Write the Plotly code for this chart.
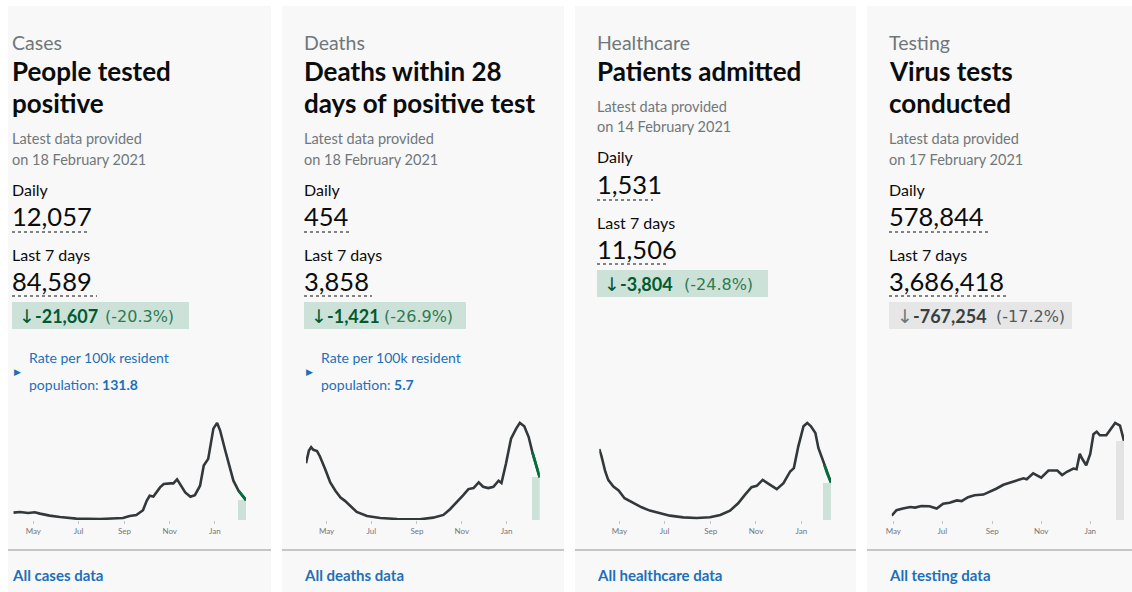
import plotly.graph_objects as go
import pandas as pd

W, H = 1132, 592
FONT = "Lato"

# ---------------- data ----------------
cases_dates = ["2020-04-04", "2020-04-13", "2020-04-24", "2020-05-03", "2020-05-10", "2020-05-23",
               "2020-06-06", "2020-06-28", "2020-07-30", "2020-08-30", "2020-09-08", "2020-09-17",
               "2020-09-26", "2020-10-01", "2020-10-05", "2020-10-10", "2020-10-19", "2020-10-24",
               "2020-11-02", "2020-11-06", "2020-11-11", "2020-11-15", "2020-11-22", "2020-11-29",
               "2020-12-05", "2020-12-12", "2020-12-17", "2020-12-23", "2020-12-30", "2021-01-04",
               "2021-01-08", "2021-01-15", "2021-01-22", "2021-01-26", "2021-02-02", "2021-02-09",
               "2021-02-12"]
cases_values = [4400, 4800, 4200, 4600, 3800, 2600, 1800, 800, 600, 1200, 2400, 3000,
                5800, 11400, 14400, 14000, 19400, 21400, 21800, 21800, 24200, 21400, 16400, 13800,
                14800, 20400, 32400, 36400, 54400, 57800, 53400, 41400, 29400, 23400, 17400, 13000,
                11800]

deaths_dates = ["2020-04-03", "2020-04-07", "2020-04-10", "2020-04-13", "2020-04-18", "2020-04-22",
                "2020-04-29", "2020-05-06", "2020-05-13", "2020-05-20", "2020-05-26", "2020-06-02",
                "2020-06-11", "2020-06-25", "2020-07-13", "2020-08-05", "2020-09-05", "2020-09-23",
                "2020-10-07", "2020-10-16", "2020-10-25", "2020-11-03", "2020-11-10", "2020-11-17",
                "2020-11-24", "2020-11-30", "2020-12-07", "2020-12-14", "2020-12-21", "2020-12-25",
                "2020-12-31", "2021-01-07", "2021-01-14", "2021-01-19", "2021-01-25", "2021-01-31",
                "2021-02-05", "2021-02-10", "2021-02-15"]
deaths_values = [727, 890, 933, 899, 882, 813, 654, 482, 374, 288, 245, 181,
                 103, 52, 26, 13, 9, 30, 65, 138, 224, 318, 396, 409,
                 482, 426, 409, 426, 503, 473, 718, 1041, 1170, 1243, 1200, 1062,
                 869, 697, 546]

health_dates = ["2020-04-04", "2020-04-07", "2020-04-12", "2020-04-16", "2020-04-23", "2020-04-30",
                "2020-05-08", "2020-05-20", "2020-05-31", "2020-06-11", "2020-06-25", "2020-07-08",
                "2020-07-26", "2020-08-13", "2020-08-31", "2020-09-14", "2020-09-27", "2020-10-08",
                "2020-10-17", "2020-10-26", "2020-11-02", "2020-11-10", "2020-11-18", "2020-11-29",
                "2020-12-08", "2020-12-17", "2020-12-22", "2020-12-28", "2021-01-04", "2021-01-09",
                "2021-01-14", "2021-01-20", "2021-01-24", "2021-01-29", "2021-02-01", "2021-02-05",
                "2021-02-10"]
health_values = [2841, 2546, 1943, 1608, 1340, 1179, 871, 670, 509, 375, 268, 174,
                 107, 80, 107, 201, 375, 670, 1005, 1313, 1367, 1608, 1447, 1233,
                 1474, 1943, 2077, 2948, 3752, 3886, 3752, 3484, 2881, 2479, 2211, 1849,
                 1501]

tests_dates = ["2020-04-29", "2020-05-05", "2020-05-13", "2020-05-22", "2020-05-28", "2020-06-05",
               "2020-06-15", "2020-06-24", "2020-07-02", "2020-07-10", "2020-07-19", "2020-07-25",
               "2020-08-02", "2020-08-10", "2020-08-21", "2020-08-31", "2020-09-06", "2020-09-15",
               "2020-09-25", "2020-10-04", "2020-10-10", "2020-10-14", "2020-10-22", "2020-11-01",
               "2020-11-10", "2020-11-21", "2020-11-27", "2020-12-03", "2020-12-11", "2020-12-15",
               "2020-12-19", "2020-12-22", "2020-12-27", "2021-01-01", "2021-01-05", "2021-01-09",
               "2021-01-13", "2021-01-21", "2021-01-26", "2021-02-01", "2021-02-07", "2021-02-12"]
tests_values = [35100, 81000, 94500, 108000, 102600, 116100, 113400, 94500, 135000, 143100,
                162000, 156600, 189000, 205200, 210600, 237600, 259200, 291600, 313200, 326700,
                345600, 337500, 386100, 351000, 410400, 410400, 372600, 399600, 426600, 421200,
                548100, 507600, 453600, 548100, 710100, 731700, 702000, 702000, 750600, 804600,
                783000, 656100]

tick_vals = ["2020-05-01", "2020-07-01", "2020-09-01", "2020-11-01", "2021-01-01"]
tick_text = ["May", "Jul", "Sep", "Nov", "Jan"]

categories = ["Cases", "Deaths", "Healthcare", "Testing"]
titles = [["People tested", "positive"], ["Deaths within 28", "days of positive test"],
          ["Patients admitted"], ["Virus tests", "conducted"]]
dates_provided = ["on 18 February 2021", "on 18 February 2021", "on 14 February 2021",
                  "on 17 February 2021"]
daily_text = ["12,057", "454", "1,531", "578,844"]
week_text = ["84,589", "3,858", "11,506", "3,686,418"]
change_text = ["-21,607", "-1,421", "-3,804", "-767,254"]
change_pct = ["(-20.3%)", "(-26.9%)", "(-24.8%)", "(-17.2%)"]
rate_text = ["131.8", "5.7", None, None]
link_text = ["All cases data", "All deaths data", "All healthcare data", "All testing data"]

series = [(cases_dates, cases_values), (deaths_dates, deaths_values),
          (health_dates, health_values), (tests_dates, tests_values)]

# ---------------- layout / style config ----------------
RECENT_DAYS = 10
card_x = [(8, 271), (282, 564), (575, 856), (867, 1132)]
text_x = [12, 304, 597, 889]
chart_x = [(13.3, 246), (306, 539.7), (599.3, 831), (891.7, 1124)]
title_shift = [0, 0, -32, 0]
under1_end = [88, 351, 653, 988]
under2_end = [97, 372, 669, 1006]
box_end = [189, 466, 768, 1072]
arrow_x = [18, 310, 603, 896]
num_x = [34, 326, 619, 912]
pct_x = [104, 383, 683, 995]
positive = [True, True, True, False]

DARK = "#0b0c0c"
GREY = "#6f777b"
BLUE = "#1d70b8"
LINE = "#33383b"
GREEN_LINE = "#00703c"
GREEN_FILL = "#cce2d8"
GREY_FILL = "#e3e3e3"


def X(px):
    return px / W


def Y(py):
    return 1 - py / H


fig = go.Figure()
shapes = []
annotations = []


def text(x, y, s, size, color, family=FONT):
    annotations.append(dict(x=X(x), y=Y(y), xref="paper", yref="paper", text=s, showarrow=False,
                            xanchor="left", yanchor="middle", borderpad=0,
                            font=dict(family=family, size=size, color=color)))


for i in range(4):
    cx0, cx1 = card_x[i]
    shapes.append(dict(type="rect", xref="paper", yref="paper", x0=X(cx0), x1=X(cx1), y0=Y(592), y1=Y(6),
                       fillcolor="#f8f8f8", line=dict(width=0), layer="below"))
    shapes.append(dict(type="line", xref="paper", yref="paper", x0=X(cx0), x1=X(cx1), y0=Y(550), y1=Y(550),
                       line=dict(color="#c4c6c8", width=2), layer="below"))
    tx = text_x[i]
    sh = title_shift[i]
    text(tx - 1, 42, categories[i], 19.5, GREY)
    for k, line in enumerate(titles[i]):
        text(tx - 1, 71 + 32 * k, "<b>" + line + "</b>", 26, DARK)
    text(tx - 1, 138 + sh, "Latest data provided", 14.5, GREY)
    text(tx - 1, 159 + sh, dates_provided[i], 14.5, GREY)
    text(tx - 1, 189 + sh, "Daily", 16, DARK)
    text(tx - 1, 216 + sh, daily_text[i], 25.5, DARK)
    shapes.append(dict(type="line", xref="paper", yref="paper", x0=X(tx), x1=X(under1_end[i]),
                       y0=Y(232 + sh), y1=Y(232 + sh), line=dict(color=DARK, width=1, dash="dot")))
    text(tx - 1, 254 + sh, "Last 7 days", 16, DARK)
    text(tx - 1, 281 + sh, week_text[i], 25.5, DARK)
    shapes.append(dict(type="line", xref="paper", yref="paper", x0=X(tx), x1=X(under2_end[i]),
                       y0=Y(296 + sh), y1=Y(296 + sh), line=dict(color=DARK, width=1, dash="dot")))
    if positive[i]:
        bfill, c_arrow, c_num, c_pct = GREEN_FILL, "#005a30", "#005a30", "#2f7a52"
    else:
        bfill, c_arrow, c_num, c_pct = "#e6e6e6", "#6f777b", "#383f43", "#505a5f"
    shapes.append(dict(type="rect", xref="paper", yref="paper", x0=X(tx), x1=X(box_end[i]),
                       y0=Y(329 + sh), y1=Y(302 + sh), fillcolor=bfill, line=dict(width=0)))
    text(arrow_x[i], 316 + sh, "↓", 19, c_arrow, family="DejaVu Sans")
    text(num_x[i], 316 + sh, "<b>%s</b>" % change_text[i], 18, c_num)
    text(pct_x[i], 316 + sh, change_pct[i], 16, c_pct, family="DejaVu Sans")
    if rate_text[i] is not None:
        text(tx + 1, 371, "▶", 9, BLUE)
        text(tx + 16, 357, "Rate per 100k resident", 14, BLUE)
        text(tx + 16, 384, "population: <b>%s</b>" % rate_text[i], 14, BLUE)
    text(tx - 1, 575, "<b>" + link_text[i] + "</b>", 15, BLUE)

    # sparkline
    d = pd.to_datetime(series[i][0])
    v = series[i][1]
    last = d[-1]
    ax = "" if i == 0 else str(i + 1)
    fig.add_trace(go.Bar(x=[last - pd.Timedelta(days=RECENT_DAYS / 2)], y=[v[-1]],
                         width=[RECENT_DAYS * 86400000],
                         marker=dict(color=GREEN_FILL if positive[i] else GREY_FILL, line=dict(width=0)),
                         xaxis="x" + ax, yaxis="y" + ax, showlegend=False, hoverinfo="skip"))
    fig.add_trace(go.Scatter(x=d, y=v, mode="lines", line=dict(color=LINE, width=2.6),
                             xaxis="x" + ax, yaxis="y" + ax, showlegend=False))
    if positive[i]:
        start = last - pd.Timedelta(days=RECENT_DAYS)
        rd = [dd for dd in d if dd >= start]
        rv = [vv for dd, vv in zip(d, v) if dd >= start]
        fig.add_trace(go.Scatter(x=rd, y=rv, mode="lines", line=dict(color=GREEN_LINE, width=2.6),
                                 xaxis="x" + ax, yaxis="y" + ax, showlegend=False))
    x0, x1 = chart_x[i]
    fig.layout["xaxis" + ax] = dict(domain=[X(x0), X(x1)], anchor="y" + ax, range=[d[0], last],
                                    tickvals=tick_vals, ticktext=tick_text, showgrid=False,
                                    zeroline=False, showline=False, ticks="outside", ticklen=3,
                                    tickcolor="#c4c6c8", tickwidth=1, automargin=False,
                                    tickfont=dict(family=FONT, size=8, color=GREY), fixedrange=True)
    fig.layout["yaxis" + ax] = dict(domain=[Y(520), Y(420)], anchor="x" + ax, range=[0, max(v) * 1.03],
                                    visible=False, fixedrange=True, automargin=False)

fig.update_layout(width=W, height=H, margin=dict(l=0, r=0, t=0, b=0, pad=0, autoexpand=False),
                  paper_bgcolor="white", plot_bgcolor="rgba(0,0,0,0)",
                  shapes=shapes, annotations=annotations, bargap=0, showlegend=False,
                  font=dict(family=FONT))
fig.write_html("out.html", config={"displayModeBar": False, "responsive": False},
               post_script="document.body.style.margin='0';document.body.style.overflow='hidden';")
